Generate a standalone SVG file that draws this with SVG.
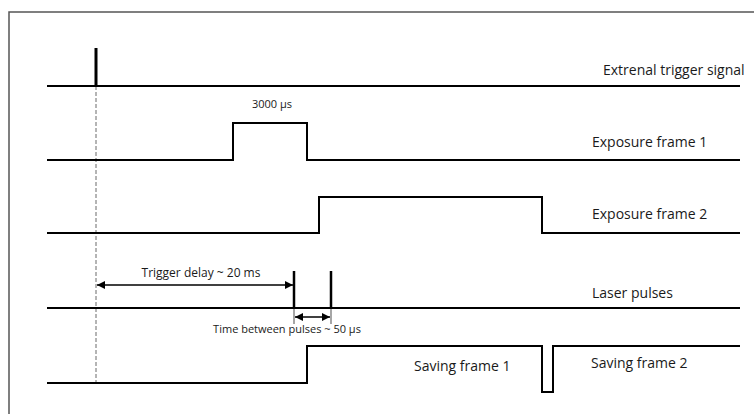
<svg xmlns="http://www.w3.org/2000/svg" width="754" height="414" viewBox="0 0 754 414">
<style>
.sig{fill:none;stroke:#000;stroke-width:2;stroke-linejoin:miter}
.lbl{font-family:"Open Sans","Liberation Sans",sans-serif;font-size:14px;fill:#1a1a1a}
.sm{font-family:"Open Sans","Liberation Sans",sans-serif;font-size:11px;fill:#1a1a1a}
.dim{stroke:#000;stroke-width:1.4;fill:none}
</style>
<defs>
<marker id="ah" viewBox="0 0 10 10" refX="10" refY="5" markerWidth="9" markerHeight="8" orient="auto-start-reverse" markerUnits="userSpaceOnUse">
<path d="M0,0 L10,5 L0,10 z" fill="#000"/>
</marker>
</defs>
<rect width="754" height="414" fill="#fff"/>
<rect x="9" y="12" width="760" height="420" fill="none" stroke="#555" stroke-width="1.5"/>
<g id="connectors">
<line x1="96" y1="86" x2="96" y2="383" stroke="#444" stroke-width="0.8" stroke-dasharray="4,2"/>
<line class="dim" x1="97" y1="285" x2="293" y2="285" marker-start="url(#ah)" marker-end="url(#ah)"/>
<line x1="294" y1="308" x2="294" y2="324" stroke="#000" stroke-width="0.7"/>
<line x1="331" y1="308" x2="331" y2="324" stroke="#000" stroke-width="0.7"/>
<line class="dim" x1="295" y1="317" x2="330" y2="317" marker-start="url(#ah)" marker-end="url(#ah)"/>
</g>
<g id="trigger">
<polyline class="sig" points="47,86 740,86"/>
<line x1="96" y1="48" x2="96" y2="86" stroke="#000" stroke-width="3"/>
<text class="lbl" x="603" y="75">Extrenal trigger signal</text>
</g>
<g id="exposure1">
<polyline class="sig" points="47,160 233,160 233,123 307,123 307,160 740,160"/>
<text class="sm" x="272" y="108" text-anchor="middle">3000 µs</text>
<text class="lbl" x="592" y="147">Exposure frame 1</text>
</g>
<g id="exposure2">
<polyline class="sig" points="47,233 319,233 319,197 542,197 542,233 740,233"/>
<text class="lbl" x="592" y="219">Exposure frame 2</text>
</g>
<g id="laser">
<polyline class="sig" points="47,308 740,308"/>
<line x1="294" y1="271" x2="294" y2="308" stroke="#000" stroke-width="2.5"/>
<line x1="331" y1="271" x2="331" y2="308" stroke="#000" stroke-width="2.5"/>
<text class="sm" x="201" y="277" text-anchor="middle" style="font-size:12px">Trigger delay ~ 20 ms</text>
<text class="sm" x="287" y="333" text-anchor="middle">Time between pulses ~ 50 µs</text>
<text class="lbl" x="592" y="298">Laser pulses</text>
</g>
<g id="saving">
<polyline class="sig" points="47,383 307,383 307,346 542,346 542,392 553,392 553,346 740,346"/>
<text class="lbl" x="414" y="371">Saving frame 1</text>
<text class="lbl" x="591" y="368">Saving frame 2</text>
</g>
</svg>
